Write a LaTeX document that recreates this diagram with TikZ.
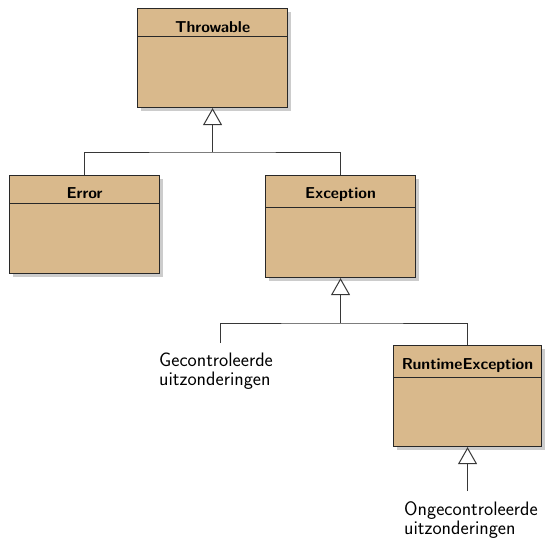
\documentclass[tikz,border=0pt]{standalone}
\usetikzlibrary{arrows.meta,shadows,calc}
\definecolor{tan}{RGB}{217,185,140}
\definecolor{edge}{RGB}{40,40,40}
\definecolor{conn}{RGB}{55,55,55}
\tikzset{
  cls/.style={draw=edge, line width=1.1pt, fill=tan, rectangle, inner sep=0pt, anchor=north west,
    drop shadow={shadow xshift=3pt, shadow yshift=-3pt, fill=black!20, opacity=1}},
  sep/.style={draw=edge, line width=1pt},
  ttl/.style={font=\sffamily\bfseries\fontsize{15.8}{18}\selectfont, anchor=base, inner sep=0pt},
  lbl/.style={font=\sffamily\fontsize{19.5}{19}\selectfont, align=left, anchor=north west,
    inner xsep=0pt, inner ysep=10pt},
  bus/.style={draw=conn, line width=1pt},
  gen/.style={draw=conn, line width=1pt, -{Triangle[open, length=17pt, width=19pt, line width=1pt, fill=white]}},
}
\begin{document}
\begin{tikzpicture}[x=1pt,y=-1pt]
\useasboundingbox (0,0) rectangle (545,538);
% classes
\node[cls, minimum width=150pt, minimum height=99pt] (thr) at (137,8) {};
\node[cls, minimum width=150pt, minimum height=98pt] (err) at (9,175) {};
\node[cls, minimum width=150pt, minimum height=102pt] (exc) at (265,175) {};
\node[cls, minimum width=148pt, minimum height=101pt] (rte) at (393,345) {};
% header separators
\draw[sep] ($(thr.north west)+(0,28)$) -- ($(thr.north east)+(0,28)$);
\draw[sep] ($(err.north west)+(0,28)$) -- ($(err.north east)+(0,28)$);
\draw[sep] ($(exc.north west)+(0,32)$) -- ($(exc.north east)+(0,32)$);
\draw[sep] ($(rte.north west)+(0,32)$) -- ($(rte.north east)+(0,32)$);
% titles
\node[ttl] (thrT) at ($(thr.north)+(0,24)$) {Throwable};
\node[ttl] (errT) at ($(err.north)+(0,23)$) {Error};
\node[ttl] (excT) at ($(exc.north)+(0,23)$) {Exception};
\node[ttl] (rteT) at ($(rte.north)+(0,24)$) {RuntimeException};
% labels
\node[lbl] (gec) at (159,343) {Gecontroleerde\\uitzonderingen};
\node[lbl] (ong) at (404,491) {Ongecontroleerde\\uitzonderingen};
% bus 1
\coordinate (b1) at (thr.south |- 0,152);
\draw[bus] (err.north) |- (b1) -| (exc.north);
\draw[gen] (b1) -- (thr.south);
% bus 2
\coordinate (b2) at (exc.south |- 0,323);
\coordinate (b2l) at (220,323);
\draw[bus] (b2l |- gec.north) -- (b2l) -- (b2) -| (rte.north);
\draw[gen] (b2) -- (exc.south);
% runtime
\draw[gen] (rte.south |- ong.north) -- (rte.south);
\end{tikzpicture}
\end{document}
